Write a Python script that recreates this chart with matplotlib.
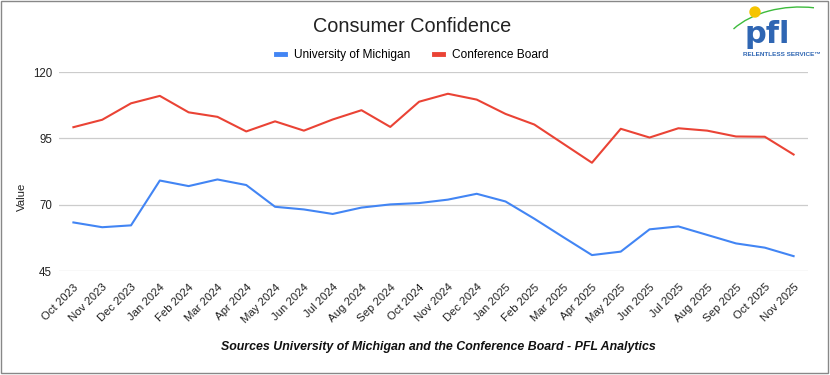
import numpy as np
import matplotlib.pyplot as plt
from matplotlib.patches import Rectangle, Circle, Arc

plt.rcParams['font.family'] = ['Liberation Sans', 'DejaVu Sans']

months = ["Oct 2023", "Nov 2023", "Dec 2023", "Jan 2024", "Feb 2024", "Mar 2024",
          "Apr 2024", "May 2024", "Jun 2024", "Jul 2024", "Aug 2024", "Sep 2024",
          "Oct 2024", "Nov 2024", "Dec 2024", "Jan 2025", "Feb 2025", "Mar 2025",
          "Apr 2025", "May 2025", "Jun 2025", "Jul 2025", "Aug 2025", "Sep 2025",
          "Oct 2025", "Nov 2025"]
michigan = [63.3, 61.5, 62.2, 79.1, 77.0, 79.5, 77.4, 69.2, 68.2, 66.5, 68.9, 70.1,
            70.6, 71.9, 74.1, 71.2, 64.7, 57.8, 51.0, 52.3, 60.7, 61.8, 58.6, 55.4,
            53.8, 50.6]
conference = [99.2, 102.0, 108.2, 111.0, 104.8, 103.1, 97.6, 101.4, 97.9, 102.1, 105.6, 99.3,
              108.8, 111.8, 109.6, 104.2, 100.2, 93.0, 85.8, 98.6, 95.3, 98.8, 97.9, 95.7,
              95.6, 88.9]
yticks = [45, 70, 95, 120]

fig = plt.figure(figsize=(8.3, 3.75), dpi=100)
ax = fig.add_axes([59 / 830, 1 - 271 / 375, 749 / 830, 199 / 375])

x = np.arange(len(months))
ax.plot(x, michigan, color='#4285F4', lw=1.5, label='University of Michigan')
ax.plot(x, conference, color='#EA4335', lw=1.5, label='Conference Board')

ax.set_xlim(-0.5, len(months) - 0.5)
ax.set_ylim(45, 120)
ax.set_yticks(yticks)
ax.set_yticklabels([str(v) for v in yticks], fontsize=8.3, color='#222222')
ax.set_xticks(x)
ax.set_xticklabels(months, rotation=45, ha='right', rotation_mode='anchor',
                   fontsize=8.2, color='#222222')
ax.tick_params(axis='x', length=0, pad=8)
ax.tick_params(axis='y', length=0, pad=5)
ax.grid(axis='y', color='#cccccc', lw=0.9)
ax.set_axisbelow(True)
for s in ax.spines.values():
    s.set_visible(False)

fig.text(21.7 / 830, 1 - 197 / 375, 'Value', rotation=90, fontsize=8.2,
         ha='center', va='center', color='#222222')
fig.text(412 / 830, 1 - 27 / 375, 'Consumer Confidence', fontsize=14.3,
         ha='center', va='center', color='#222222')
fig.legend(loc='center', bbox_to_anchor=(412 / 830, 1 - 55 / 375), ncol=2,
           frameon=False, fontsize=8.6, handlelength=0.8, handletextpad=0.7,
           columnspacing=2.0)
for line in fig.legends[0].get_lines():
    line.set_linewidth(3.5)
fig.text(438 / 830, 1 - 347 / 375,
         'Sources University of Michigan and the Conference Board - PFL Analytics',
         fontsize=8.9, fontweight='bold', fontstyle='italic', ha='center', va='center',
         color='#111111')

# overlay in pixel coords for border and logo
ov = fig.add_axes([0, 0, 1, 1], zorder=-1)
ov.set_xlim(0, 830)
ov.set_ylim(375, 0)
ov.axis('off')
ov.add_patch(Rectangle((1, 1), 827, 372, fill=False, ec='#888888', lw=1))

logo = fig.add_axes([0, 0, 1, 1], zorder=5)
logo.set_xlim(0, 830)
logo.set_ylim(375, 0)
logo.axis('off')
logo.add_patch(Arc((800, 60), 164, 106, theta1=205, theta2=285, color='#3dbb3d', lw=1))
logo.add_patch(Circle((755, 12), 5, color='#f5c400', zorder=3))
logo.text(767, 43, 'pfl', fontsize=22, fontweight='bold', color='#2f66b3',
          family='DejaVu Sans', ha='center', va='baseline')
logo.text(782, 54, 'RELENTLESS SERVICE\u2122', fontsize=4.6, fontweight='bold',
          color='#2f66b3', ha='center', va='center')

fig.savefig('out.png', dpi=100)
